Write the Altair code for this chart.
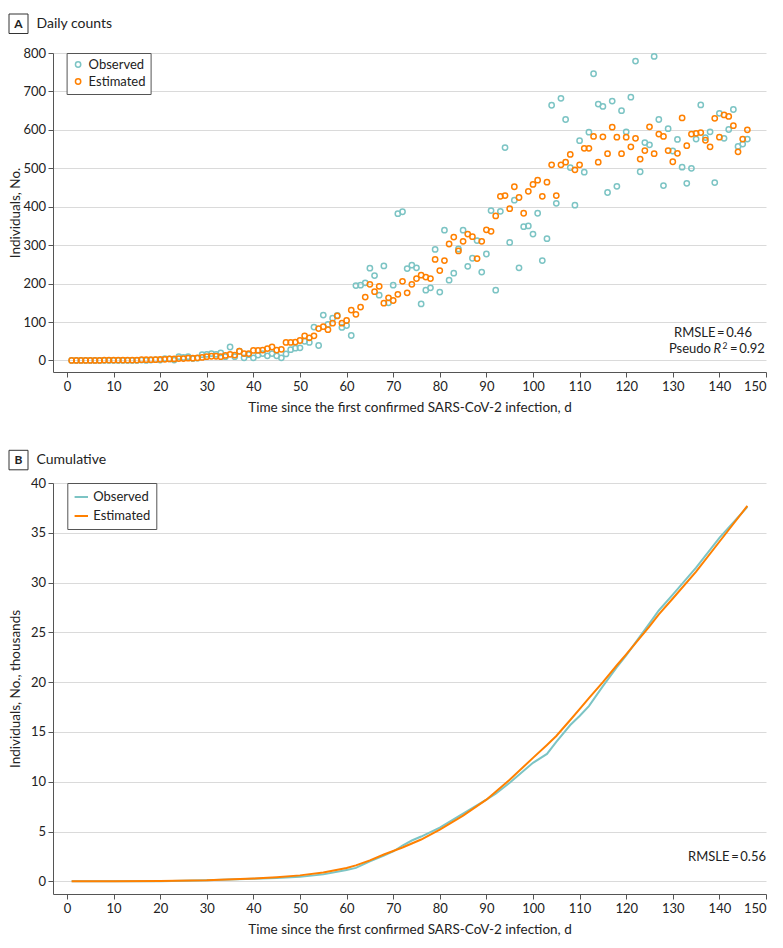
import altair as alt
import pandas as pd

# ---------------- data ----------------
days = list(range(1, 147))

observed_daily = [
    0, 0, 0, 0, 0, 0, 0, 0, 0, 0,
    0, 0, 0, 0, 0, 1, 0, 1, 2, 1,
    5, 4, 1, 10, 8, 10, 5, 6, 15, 16,
    18, 16, 20, 10, 35, 10, 24, 7, 15, 7,
    14, 18, 12, 18, 12, 7, 17, 28, 32, 33,
    50, 47, 87, 39, 118, 94, 110, 117, 86, 91,
    65, 195, 196, 202, 240, 221, 170, 246, 150, 196,
    382, 387, 239, 248, 241, 147, 183, 189, 289, 178,
    339, 209, 227, 290, 339, 245, 266, 312, 230, 277,
    390, 183, 388, 554, 307, 417, 241, 348, 350, 329,
    383, 260, 317, 664, 409, 682, 627, 502, 404, 572,
    490, 594, 746, 667, 661, 437, 675, 453, 650, 595,
    685, 779, 491, 567, 561, 791, 627, 455, 603, 545,
    575, 503, 461, 500, 576, 665, 580, 595, 463, 643,
    578, 601, 653, 557, 563, 576,
]

estimated_daily = [
    0, 0, 0, 0, 0, 0, 0, 1, 1, 1,
    1, 1, 1, 1, 1, 2, 2, 2, 2, 3,
    3, 4, 4, 5, 5, 6, 6, 7, 8, 10,
    11, 11, 10, 13, 16, 14, 24, 18, 18, 26,
    26, 27, 31, 35, 27, 29, 47, 47, 48, 52,
    64, 59, 64, 83, 88, 80, 97, 116, 97, 104,
    131, 120, 139, 165, 198, 179, 193, 149, 163, 156,
    172, 206, 176, 198, 213, 222, 217, 213, 263, 234,
    260, 303, 321, 285, 310, 329, 322, 265, 310, 340,
    336, 376, 427, 429, 395, 452, 424, 383, 440, 458,
    469, 427, 464, 509, 429, 509, 516, 536, 496, 509,
    552, 552, 583, 516, 582, 538, 607, 581, 538, 581,
    556, 578, 524, 546, 608, 538, 589, 583, 546, 517,
    539, 631, 559, 589, 591, 593, 573, 556, 630, 581,
    639, 635, 611, 543, 576, 600,
]

cum_days = [1, 10, 20, 30, 40, 45, 50, 55, 60, 62, 65, 68, 70, 72, 74, 76,
            80, 85, 90, 92, 95, 100, 103, 105, 108, 110, 112, 115, 118, 120,
            125, 127, 130, 135, 140, 146]
observed_cum = [0.0, 0.0, 0.02, 0.12, 0.25, 0.33, 0.45, 0.7, 1.15, 1.35, 2.0, 2.6,
                3.0, 3.6, 4.1, 4.5, 5.4, 6.8, 8.2, 8.8, 9.9, 11.9, 12.8, 14.0,
                15.7, 16.6, 17.6, 19.6, 21.5, 22.7, 25.9, 27.2, 28.8, 31.5, 34.5, 37.6]
estimated_cum = [0.0, 0.0, 0.03, 0.1, 0.28, 0.42, 0.6, 0.9, 1.35, 1.6, 2.1, 2.7,
                 3.05, 3.4, 3.8, 4.2, 5.2, 6.6, 8.2, 9.0, 10.2, 12.4, 13.7, 14.6,
                 16.2, 17.3, 18.4, 20.0, 21.7, 22.8, 25.6, 26.8, 28.4, 31.1, 34.1, 37.7]

series_names = ["Observed", "Estimated"]
x_ticks = list(range(0, 151, 10))
y_ticks_daily = list(range(0, 801, 100))
y_ticks_cum = list(range(0, 41, 5))

# ---------------- styling ----------------
TEAL = "#7CC4C4"
ORANGE = "#FF8000"
FONT = "Lato"
INK = "#222222"
W = 713
HA = 319
HB = 411

daily_df = pd.DataFrame({
    "day": days + days,
    "count": observed_daily + estimated_daily,
    "series": [series_names[0]] * len(days) + [series_names[1]] * len(days),
})
cum_df = pd.DataFrame({
    "day": cum_days + cum_days,
    "thousands": observed_cum + estimated_cum,
    "series": [series_names[0]] * len(cum_days) + [series_names[1]] * len(cum_days),
})
one = pd.DataFrame({"k": [0]})

color_scale = alt.Scale(domain=series_names, range=[TEAL, ORANGE])
x_title = "Time since the first confirmed SARS-CoV-2 infection, d"


def x_enc():
    return alt.X("day:Q",
                 scale=alt.Scale(domain=[-3, 150], nice=False, zero=False),
                 axis=alt.Axis(values=x_ticks, title=x_title, grid=False,
                               labelPadding=3, titlePadding=7))


def panel_label(letter, title, top):
    box = alt.Chart(one).mark_rect(fill="white", stroke="#333333", strokeWidth=1).encode(
        x=alt.value(-44), x2=alt.value(-25), y=alt.value(top), y2=alt.value(top + 19.5))
    let = alt.Chart(one).mark_text(text=letter, font=FONT, fontSize=12, fontWeight="bold",
                                   color=INK, baseline="middle", align="center").encode(
        x=alt.value(-34.5), y=alt.value(top + 10))
    ttl = alt.Chart(one).mark_text(text=title, font=FONT, fontSize=14, color=INK,
                                   baseline="middle", align="left").encode(
        x=alt.value(-16.5), y=alt.value(top + 10))
    return [box, let, ttl]


def note(text, x, y, align="left", size=13, style="normal"):
    return alt.Chart(one).mark_text(text=text, font=FONT, fontSize=size, fontStyle=style,
                                    color=INK, align=align, baseline="middle").encode(
        x=alt.value(x), y=alt.value(y))


# ---------------- panel A ----------------
points = alt.Chart(daily_df).mark_point(filled=False, size=28, strokeWidth=1.5, opacity=1).encode(
    x=x_enc(),
    y=alt.Y("count:Q",
            scale=alt.Scale(domain=[-30, 800], nice=False, zero=False),
            axis=alt.Axis(values=y_ticks_daily, title="Individuals, No.", titleX=-31,
                          grid=True, labelPadding=2.5)),
    color=alt.Color("series:N", scale=color_scale, title=None,
                    legend=alt.Legend(orient="none", legendX=13.6, legendY=0,
                                      strokeColor="#555555", fillColor="white",
                                      padding=5, rowPadding=3, labelFont=FONT,
                                      labelFontSize=13, labelColor=INK,
                                      symbolType="circle", symbolSize=28,
                                      symbolStrokeWidth=1.5, labelOffset=4)),
)

notes_a = [
    note("RMSLE\u2009=\u20090.46", 621, 279.5),
    note("Pseudo", 658, 296.3, align="right"),
    note("R", 668, 296.3, align="right", style="italic"),
    note("2", 669.5, 292.5, align="left", size=8.5),
    note("=\u20090.92", 677, 296.3, align="left"),
]

panel_a = alt.layer(points, *notes_a, *panel_label("A", "Daily counts", -39)).properties(
    width=W, height=HA)

# ---------------- panel B ----------------
base_b = alt.Chart(cum_df).encode(
    x=x_enc(),
    y=alt.Y("thousands:Q",
            scale=alt.Scale(domain=[-1.27, 40], nice=False, zero=False),
            axis=alt.Axis(values=y_ticks_cum, title="Individuals, No., thousands",
                          titleX=-31, grid=True, labelPadding=2.5)),
    color=alt.Color("series:N", scale=color_scale, title=None,
                    legend=alt.Legend(orient="none", legendX=14.3, legendY=0,
                                      strokeColor="#555555", fillColor="white",
                                      padding=6, rowPadding=4, labelFont=FONT,
                                      labelFontSize=13, labelColor=INK,
                                      symbolType="stroke", symbolSize=180,
                                      symbolStrokeWidth=2, labelOffset=4)),
)
obs_line = base_b.transform_filter(alt.datum.series == "Observed").mark_line(strokeWidth=2)
est_line = base_b.transform_filter(alt.datum.series == "Estimated").mark_line(strokeWidth=2)

panel_b = alt.layer(obs_line, est_line,
                    note("RMSLE\u2009=\u20090.56", 713, 374, align="right"),
                    *panel_label("B", "Cumulative", -32.7)).properties(width=W, height=HB)

chart = (
    alt.vconcat(panel_a, panel_b, spacing=35)
    .resolve_scale(color="independent")
    .resolve_legend(color="independent")
    .properties(padding={"left": 0, "top": 5, "right": 0, "bottom": 0})
    .configure_axis(labelFont=FONT, titleFont=FONT, labelFontSize=13, titleFontSize=13.5,
                    titleFontWeight="normal", labelColor=INK, titleColor=INK,
                    domainColor="#555555", tickColor="#555555", tickSize=5,
                    gridColor="#DADADA", gridWidth=1)
    .configure_view(strokeWidth=0)
)

chart.save("out.html", embed_options={"renderer": "svg", "actions": False})
